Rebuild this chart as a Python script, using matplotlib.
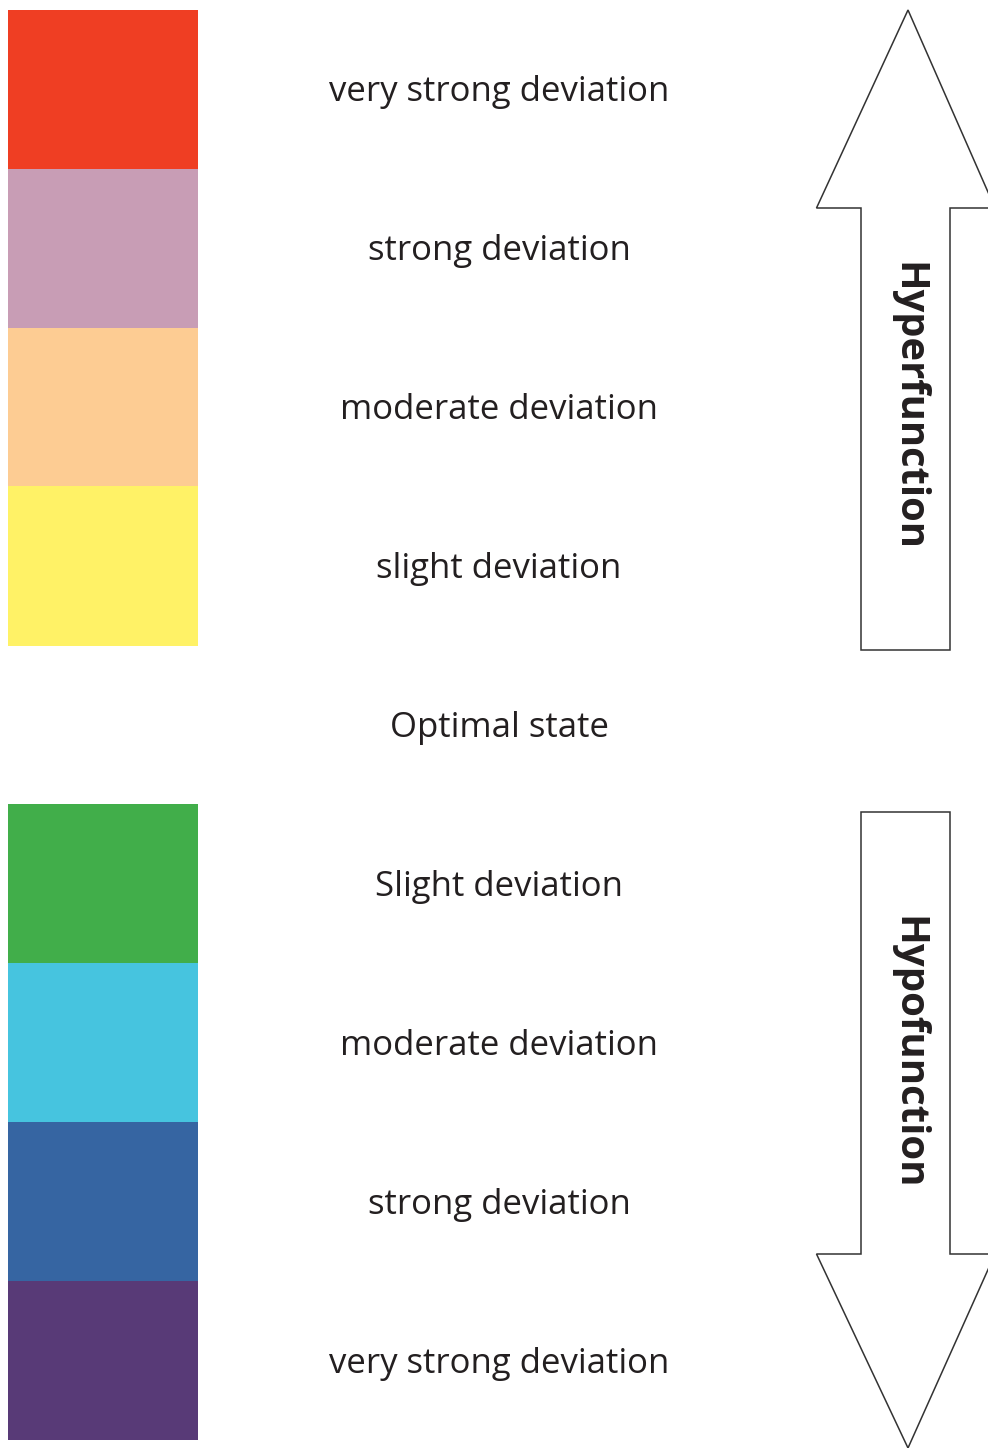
import matplotlib.pyplot as plt
from matplotlib.patches import Polygon

# Scale rows, top to bottom
LABELS = [
    "very strong deviation", "strong deviation", "moderate deviation", "slight deviation",
    "Optimal state",
    "Slight deviation", "moderate deviation", "strong deviation", "very strong deviation",
]
COLORS = [
    "#ef3e23", "#c89db5", "#fdcc93", "#fff266",
    None,
    "#41ae4a", "#46c4df", "#3665a2", "#583a77",
]
ARROW_LABELS = ["Hyperfunction", "Hypofunction"]

W, H = 988, 1448
TOP, ROW_H = 10, 158.9
TEXT_COLOR = "#231f20"

fig = plt.figure(figsize=(W / 100, H / 100), dpi=100)
ax = fig.add_axes([0, 0, 1, 1])
ax.set_xlim(0, W)
ax.set_ylim(H, 0)
ax.axis("off")

centers = [TOP + ROW_H * (i + 0.5) for i in range(len(LABELS))]

# colour blocks
for yc, col in zip(centers, COLORS):
    if col is None:
        continue
    ax.barh(yc, 190, left=8, height=ROW_H + 0.6, color=col, linewidth=0)

# row labels
for yc, lab in zip(centers, LABELS):
    ax.text(499, yc + 3, lab, ha="center", va="center", fontsize=25,
            family="Open Sans", color=TEXT_COLOR)


def block_arrow(tip_y, base_y, end_y, cx=908, head=(816.5, 995), shaft=(861, 950)):
    # outline of a wide block arrow pointing from end_y towards tip_y
    h0, h1 = head
    x0, x1 = shaft
    pts = [(cx, tip_y), (h1, base_y), (x1, base_y),
           (x1, end_y), (x0, end_y), (x0, base_y), (h0, base_y)]
    ax.add_patch(Polygon(pts, closed=True, facecolor="white",
                         edgecolor="#333333", linewidth=1.1, joinstyle="miter"))


block_arrow(10, 208, 650)
block_arrow(1448, 1254, 812)

ax.text(908, 407, ARROW_LABELS[0], rotation=-90, ha="center", va="center",
        fontsize=28.7, fontweight="bold", family="Open Sans", color=TEXT_COLOR)
ax.text(908, 1053, ARROW_LABELS[1], rotation=-90, ha="center", va="center",
        fontsize=29, fontweight="bold", family="Open Sans", color=TEXT_COLOR)

fig.savefig("out.png", dpi=100, facecolor="white")
